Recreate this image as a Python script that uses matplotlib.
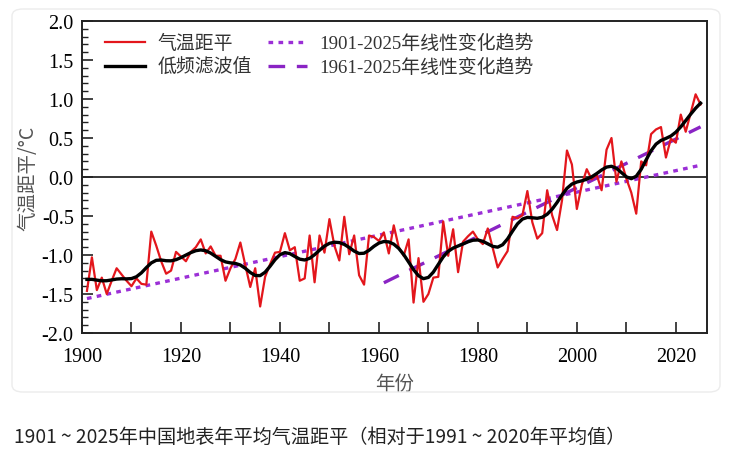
import matplotlib
matplotlib.use('Agg')
import matplotlib.pyplot as plt
from matplotlib.patches import FancyBboxPatch
from matplotlib.ticker import MultipleLocator
import numpy as np

# 数据：1901-2025 年中国地表年平均气温距平
years = np.arange(1901, 2026)
anomaly = [
    -1.46, -1.03, -1.45, -1.29, -1.50, -1.33, -1.17, -1.25, -1.33, -1.40,   # 1901-1910
    -1.30, -1.37, -1.38, -0.70, -0.88, -1.08, -1.24, -1.20, -0.96, -1.02,   # 1911-1920
    -1.08, -0.96, -0.90, -0.80, -0.98, -0.89, -1.01, -1.01, -1.33, -1.17,   # 1921-1930
    -1.05, -0.84, -1.13, -1.41, -1.17, -1.66, -1.28, -1.12, -0.97, -0.96,   # 1931-1940
    -0.72, -0.94, -0.90, -1.33, -1.30, -0.75, -1.35, -0.75, -0.97, -0.54,   # 1941-1950
    -0.88, -1.07, -0.51, -0.99, -0.75, -1.26, -1.38, -0.75, -0.77, -0.82,   # 1951-1960
    -0.71, -0.98, -0.62, -0.90, -1.01, -0.80, -1.61, -1.04, -1.60, -1.50,   # 1961-1970
    -1.29, -1.28, -0.57, -1.01, -0.67, -1.22, -0.83, -0.76, -0.70, -0.80,   # 1971-1980
    -0.86, -0.66, -0.91, -1.16, -1.05, -0.95, -0.51, -0.53, -0.49, -0.18,   # 1981-1990
    -0.58, -0.79, -0.72, -0.17, -0.49, -0.68, -0.30, 0.34, 0.16, -0.41,     # 1991-2000
    -0.10, 0.10, -0.03, 0.03, -0.17, 0.35, 0.50, -0.06, 0.20, -0.02,        # 2001-2010
    -0.20, -0.47, 0.20, 0.15, 0.55, 0.61, 0.64, 0.25, 0.49, 0.44,           # 2011-2020
    0.80, 0.58, 0.82, 1.06, 0.93,                                           # 2021-2025
]
anomaly = np.array(anomaly)

legend_labels = ['气温距平', '低频滤波值', '1901-2025年线性变化趋势', '1961-2025年线性变化趋势']
caption = '1901 ~ 2025年中国地表年平均气温距平（相对于1991 ~ 2020年平均值）'

# 低频滤波：高斯核平滑，取加权均值与局部线性两种估计的平均
# （中间两者相同，只在两端有区别）
sigma = 2.1
lowpass = np.zeros_like(anomaly)
for i, yr in enumerate(years):
    w = np.exp(-0.5 * ((years - yr) / sigma) ** 2)
    dx = years - yr
    sw, sx, sxx = w.sum(), (w * dx).sum(), (w * dx * dx).sum()
    sy, sxy = (w * anomaly).sum(), (w * dx * anomaly).sum()
    loc_mean = sy / sw
    loc_lin = (sy * sxx - sx * sxy) / (sw * sxx - sx * sx)
    lowpass[i] = 0.5 * (loc_mean + loc_lin)

# 线性趋势
p_all = np.polyfit(years, anomaly, 1)
sel = years >= 1961
p_61 = np.polyfit(years[sel], anomaly[sel], 1)

SERIF = ['Liberation Serif', 'Noto Sans CJK SC']
CJK = ['Noto Sans CJK SC', 'DejaVu Sans']
TXT = '#333333'

fig = plt.figure(figsize=(7.3, 4.6), dpi=100)
fig.patches.append(FancyBboxPatch((12 / 730, 1 - 393 / 460), 708 / 730, 383 / 460,
                                  boxstyle='round,pad=0,rounding_size=0.015',
                                  transform=fig.transFigure, facecolor='none',
                                  edgecolor='#ececec', linewidth=1.0, zorder=0))

ax = fig.add_axes([82 / 730, 1 - 334 / 460, (707 - 82) / 730, (334 - 22) / 460])
ax.set_facecolor('none')

ax.axhline(0, color='black', linewidth=1.1, zorder=1)
ax.plot(years, anomaly, color='#e3161c', linewidth=1.6, zorder=3, label=legend_labels[0])
ax.plot(years, lowpass, color='black', linewidth=2.4, zorder=4, label=legend_labels[1])
ax.plot(years, np.polyval(p_all, years), color='#9b2fd6', linewidth=2.4,
        linestyle=(0, (1.4, 1.6)), zorder=2, label=legend_labels[2])
ax.plot(years[sel], np.polyval(p_61, years[sel]), color='#8a24c4', linewidth=2.4,
        linestyle=(0, (5, 3.5)), zorder=2, label=legend_labels[3])

ax.set_xlim(1900, 2026.3)
ax.set_ylim(-2.0, 2.0)
ax.xaxis.set_major_locator(MultipleLocator(20))
ax.xaxis.set_minor_locator(MultipleLocator(10))
ax.yaxis.set_major_locator(MultipleLocator(0.5))
ax.yaxis.set_minor_locator(MultipleLocator(0.1))
ax.yaxis.set_major_formatter(plt.FuncFormatter(lambda v, _: f'{v:.1f}'))
ax.tick_params(axis='both', which='both', direction='in', top=False, right=False,
               colors='#222222', labelcolor='black')
ax.tick_params(axis='x', which='major', length=8, width=1.2, pad=10)
ax.tick_params(axis='x', which='minor', length=8, width=1.2)
ax.tick_params(axis='y', which='major', length=8, width=1.2, pad=6)
ax.tick_params(axis='y', which='minor', length=4, width=1.0)
for lab in ax.get_xticklabels() + ax.get_yticklabels():
    lab.set_family(SERIF)
    lab.set_fontsize(14.5)
for sp in ax.spines.values():
    sp.set_linewidth(1.4)
    sp.set_color('#222222')

ax.set_xlabel('年份', family=CJK, fontsize=14, color='#555555', labelpad=5)
ax.set_ylabel('气温距平/°C', family=CJK, fontsize=14, color='#555555', labelpad=2)

leg = ax.legend(loc='upper left', bbox_to_anchor=(0.01, 1.012), ncol=2, frameon=False,
                handlelength=2.1, handletextpad=0.65, columnspacing=0.85,
                labelspacing=0.3, prop={'family': SERIF, 'size': 13.6})
for t in leg.get_texts():
    t.set_color(TXT)

fig.text(14 / 730, 1 - 437 / 460, caption, family=CJK, fontsize=13.8, color='#222222',
         ha='left', va='center')

fig.savefig('out.png', dpi=100)
